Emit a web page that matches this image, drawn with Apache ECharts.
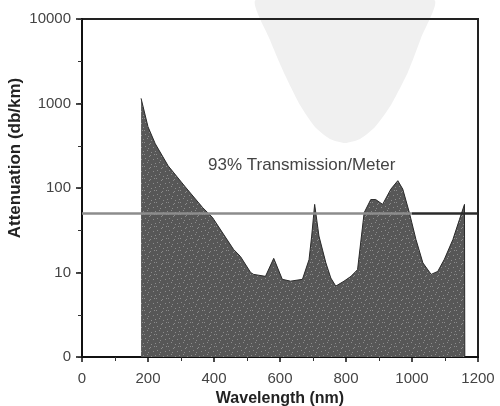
<!DOCTYPE html>
<html><head><meta charset="utf-8">
<script src="https://cdn.jsdelivr.net/npm/echarts@6/dist/echarts.min.js"></script>
<style>html,body{margin:0;padding:0;background:#fff}#c{width:500px;height:406px}</style>
</head><body><div id="c"></div>
<script>
var wavelengths = [179,200,222,261,313,365,395,459,480,511,520,556,581,607,632,668,688,696,705,718,739,754,769,794,815,835,855,875,890,911,936,957,972,992,1012,1033,1058,1078,1098,1124,1144,1159,1160];
var attenuation = [1150,530,334,183,103,59,45,18.8,15.5,10,9.5,9,14.7,8.3,7.9,8.3,14.2,27,64,27,13,8.6,6.9,7.9,9,10.8,51,73,73,64,97,122,97,51,24.6,13,9.5,10.3,14.3,24.6,42.6,64,1];
var thresholdValue = 50;
var thresholdLabel = '93% Transmission/Meter';
var xAxisTitle = 'Wavelength (nm)';
var yAxisTitle = 'Attenuation (db/km)';
var xTickLabels = {0:'0',200:'200',400:'400',600:'600',800:'800',1000:'1000',1200:'1200'};
var yTickLabels = {1:'0',10:'10',100:'100',1000:'1000',10000:'10000'};

// speckle texture for the fill
var tex = document.createElement('canvas');
tex.width = 12; tex.height = 12;
var tc = tex.getContext('2d');
tc.fillStyle = '#575757'; tc.fillRect(0,0,12,12);
tc.fillStyle = '#8c8c8c';
[[1,2],[5,0],[9,3],[3,6],[7,8],[11,7],[0,10],[6,11],[10,10],[4,4]].forEach(function(p){tc.fillRect(p[0],p[1],1,1);});

var data = wavelengths.map(function(w,i){return [w, attenuation[i]];});

var chart = echarts.init(document.getElementById('c'));
chart.setOption({
  animation:false,
  textStyle:{fontFamily:'Liberation Sans, Arial, sans-serif'},
  graphic:[{
    type:'polygon', z:-10, silent:true,
    shape:{points:[[256,0],[270,40],[285,75],[300,105],[315,127],[330,139],[345,143],[360,139],[375,127],[391,105],[408,72],[421,38],[434,0]],smooth:0.2},
    style:{fill:'#f0f0f0'}
  },{
    type:'text', x:15, y:158, silent:true,
    rotation:Math.PI/2,
    style:{text:yAxisTitle,fontSize:17,fontWeight:'bold',fill:'#222',align:'center',verticalAlign:'middle',fontFamily:'Liberation Sans, Arial, sans-serif'}
  }],
  grid:{left:82,right:22,top:19,bottom:49,containLabel:false,outerBoundsMode:'none',show:true,borderColor:'#222',borderWidth:2,backgroundColor:'transparent'},
  xAxis:{
    type:'value',min:0,max:1200,interval:200,
    name:xAxisTitle,nameLocation:'middle',nameGap:32,
    nameTextStyle:{fontSize:16,fontWeight:'bold',color:'#222'},
    axisLine:{lineStyle:{color:'#111',width:2}},
    axisTick:{show:true,inside:false,length:5,lineStyle:{color:'#111',width:1.5}},
    minorTick:{show:true,splitNumber:2,length:4,lineStyle:{color:'#333'}},
    axisLabel:{fontSize:15,color:'#444',margin:14,formatter:function(v){return xTickLabels[v]!==undefined?xTickLabels[v]:'';}},
    splitLine:{show:false}
  },
  yAxis:[{
    type:'log',logBase:10,min:1,max:10000,
    axisLine:{show:true,lineStyle:{color:'#111',width:2}},
    axisTick:{show:true,inside:false,length:6,lineStyle:{color:'#111',width:1.5}},
    axisLabel:{fontSize:15,color:'#444',margin:11,formatter:function(v){var k=Math.round(v);return yTickLabels[k]!==undefined?yTickLabels[k]:'';}},
    splitLine:{show:false}
  },{
    type:'value',min:0,max:4,interval:0.5,position:'left',
    axisLine:{show:false},axisLabel:{show:false},splitLine:{show:false},
    axisTick:{show:true,inside:false,length:4,lineStyle:{color:'#333',width:1}}
  }],
  series:[{
    type:'line',data:data,symbol:'none',z:2,yAxisIndex:0,
    lineStyle:{color:'#2a2a2a',width:1},
    areaStyle:{color:{image:tex,repeat:'repeat'},opacity:1},
    markLine:{
      silent:true,symbol:'none',
      label:{show:false},
      data:[
        [{coord:[0,thresholdValue],lineStyle:{color:'#8c8c8c',width:2.5,type:'solid'}},{coord:[1000,thresholdValue]}],
        [{coord:[1000,thresholdValue],lineStyle:{color:'#2a2a2a',width:2.5,type:'solid'}},{coord:[1200,thresholdValue]}]
      ]
    }
  }],
  title:{text:thresholdLabel,left:203,top:152,textStyle:{fontSize:17,fontWeight:'normal',color:'#444'}}
});
</script></body></html>
